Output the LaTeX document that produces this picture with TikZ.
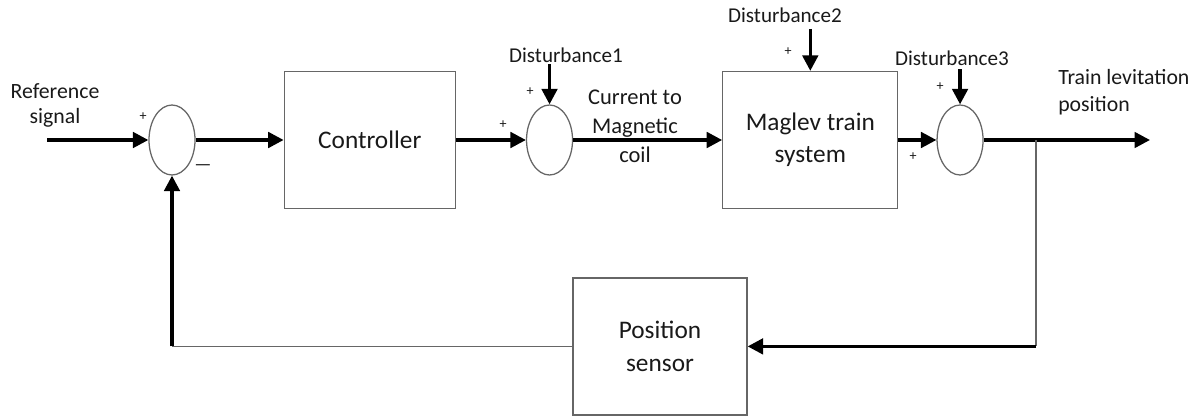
\documentclass[tikz,border=0pt]{standalone}
\usepackage{fontspec}
\setmainfont{Carlito}
\usetikzlibrary{positioning,arrows.meta,shapes.geometric}

\begin{document}
\begin{tikzpicture}[node distance=1.5cm, auto,
    block/.style={rectangle, draw=black!60, line width=0.9pt, text=black!90, minimum height=3.425cm, align=center, font=\fontsize{18}{23}\selectfont},
    sum/.style={ellipse, draw=black!60, line width=0.9pt, minimum width=1.15cm, minimum height=1.75cm, inner sep=0pt},
    arrow/.style={line width=2.4pt, -{Triangle[length=11pt,width=11pt]}},
    link/.style={line width=1.2pt, draw=black!60},
    note/.style={text=black!90, align=center, inner sep=0pt, font=\fontsize{15.5}{19}\selectfont},
    signtext/.style={text=black!90, inner sep=0pt, font=\fontsize{10}{12}\selectfont}]

    \useasboundingbox (0,0) rectangle (30.075,-10.425);

    \node[sum] (sum1) at (4.3,-3.5) {};
    \node[block, minimum width=4.275cm, right=2.2cm of sum1] (ctrl) {Controller};
    \node[sum, right=1.75cm of ctrl] (sum2) {};
    \node[block, minimum width=4.375cm, right=3.725cm of sum2] (maglev) {Maglev train\\system};
    \node[sum, right=0.95cm of maglev] (sum3) {};
    \node[block, minimum width=4.35cm] (sensor) at (16.5,-8.66) {Position\\sensor};

    \coordinate (in) at (1.175,-3.5);
    \coordinate (branch) at (25.9,-3.5);
    \coordinate (out) at (28.75,-3.5);
    \coordinate[above=1cm of sum2] (d1in);
    \coordinate[above=1.05cm of maglev] (d2in);
    \coordinate[above=0.875cm of sum3] (d3in);
    \coordinate (fbturn) at (branch |- sensor.east);
    \coordinate (fbcorner) at (sum1 |- sensor.west);

    % Labels
    \node[note, font=\fontsize{15.5}{17.8}\selectfont] (refsig) at (1.375,-2.625) {Reference\\signal};
    \node[note, font=\fontsize{15}{18}\selectfont] (dist1) at (14.15,-1.375) {Disturbance1};
    \node[note, font=\fontsize{15}{18}\selectfont] (dist2) at (19.625,-0.375) {Disturbance2};
    \node[note, font=\fontsize{15}{18}\selectfont] (dist3) at (23.8,-1.45) {Disturbance3};
    \node[note, font=\fontsize{16}{20.6}\selectfont] (current) at (15.875,-3.15) {Current to\\Magnetic\\coil};
    \node[note, align=left, anchor=west] (trainpos) at (26.45,-2.3) {Train levitation\\position};

    % Signs
    \node[signtext] (p1) at (3.575,-2.925) {+};
    \node[signtext, font=\fontsize{13.5}{14}\selectfont] (m1) at (5.075,-4.2) {—};
    \node[signtext] (p2) at (13.25,-2.3) {+};
    \node[signtext] (p3) at (12.575,-3.125) {+};
    \node[signtext] (p4) at (19.7,-1.3) {+};
    \node[signtext] (p5) at (23.5,-2.175) {+};
    \node[signtext] (p6) at (22.825,-3.925) {+};

    \draw[arrow] (in) -- (sum1);
    \draw[arrow] (sum1) -- (ctrl);
    \draw[arrow] (ctrl) -- (sum2);
    \draw[arrow] (sum2) -- (maglev);
    \draw[arrow] (maglev) -- (sum3);
    \draw[arrow] (sum3) -- (out);
    \draw[arrow] (d1in) -- (sum2);
    \draw[arrow] (d2in) -- (maglev);
    \draw[arrow] (d3in) -- (sum3);

    % Feedback
    \draw[link] (branch) -- (fbturn);
    \draw[arrow] (fbturn) -- (sensor);
    \draw[link] (sensor) -- (fbcorner);
    \draw[arrow] (fbcorner) -- (sum1);

\end{tikzpicture}
\end{document}
